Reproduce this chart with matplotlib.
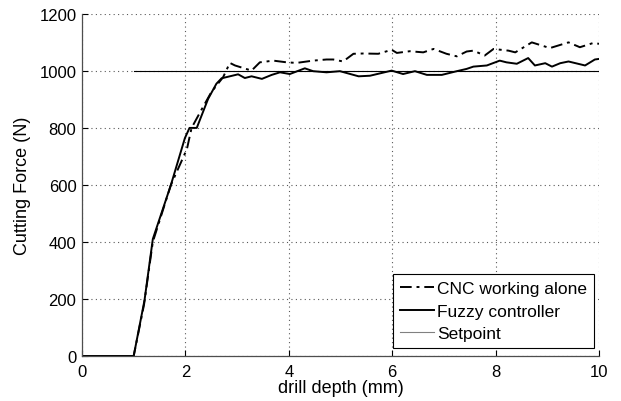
import matplotlib
matplotlib.use("Agg")
import matplotlib.pyplot as plt

plt.rcParams['font.family'] = ['Liberation Sans', 'DejaVu Sans']

fuzzy_x = [0, 1.0, 1.21, 1.37, 1.72, 1.99, 2.08, 2.22, 2.44, 2.6, 2.7, 2.86, 3.02, 3.15, 3.28, 3.48,
           3.67, 3.83, 4.02, 4.31, 4.47, 4.73, 4.99, 5.35, 5.57, 5.99, 6.21, 6.44, 6.67, 6.96, 7.25,
           7.44, 7.57, 7.83, 8.08, 8.21, 8.41, 8.63, 8.76, 8.96, 9.09, 9.25, 9.41, 9.73, 9.92, 10.0]
fuzzy_y = [0, 0, 196, 410, 600, 764, 800, 800, 902, 955, 974, 981, 988, 975, 981, 972,
           986, 995, 989, 1009, 999, 995, 999, 981, 983, 1001, 989, 999, 986, 986, 999,
           1007, 1015, 1019, 1036, 1030, 1025, 1045, 1019, 1027, 1015, 1027, 1033, 1019, 1040, 1042]

cnc_x = [0, 1.0, 1.2, 1.37, 1.72, 2.03, 2.12, 2.3, 2.5, 2.73, 2.86, 2.96, 3.28, 3.44, 3.70, 3.96,
         4.15, 4.47, 4.73, 4.86, 5.05, 5.25, 5.44, 5.73, 5.99, 6.09, 6.34, 6.60, 6.80, 7.05, 7.25,
         7.44, 7.57, 7.79, 7.96, 8.25, 8.38, 8.70, 9.05, 9.41, 9.63, 9.89, 10.0]
cnc_y = [0, 0, 180, 400, 600, 726, 800, 860, 925, 978, 1028, 1019, 1001, 1030, 1036, 1030,
         1028, 1036, 1040, 1040, 1033, 1060, 1061, 1060, 1074, 1063, 1069, 1065, 1077, 1060, 1051,
         1068, 1071, 1054, 1077, 1071, 1065, 1100, 1080, 1100, 1083, 1098, 1095]

setpoint_x = [1.0, 10.0]
setpoint_y = [1000, 1000]

xticks = [0, 2, 4, 6, 8, 10]
yticks = [0, 200, 400, 600, 800, 1000, 1200]

fig = plt.figure(figsize=(6.21, 4.02), dpi=100)
ax = fig.add_axes([0.132, 0.112, 0.8326, 0.851])

ax.plot(cnc_x, cnc_y, color='black', lw=1.4, linestyle=(0, (6, 2.5, 1.5, 2.5)), label='CNC working alone')
ax.plot(fuzzy_x, fuzzy_y, color='black', lw=1.4, label='Fuzzy controller')
ax.plot(setpoint_x, setpoint_y, color='black', lw=0.8, label='Setpoint')

ax.set_xlim(0, 10)
ax.set_ylim(0, 1200)
ax.set_xticks(xticks)
ax.set_yticks(yticks)
ax.grid(True, linestyle=(0, (1, 3)), color='0.35', lw=0.8)
ax.tick_params(direction='in', length=4, labelsize=12, colors='black')
ax.tick_params(axis='x', pad=6)
ax.tick_params(axis='y', pad=4)
for s in ['top', 'right']:
    ax.spines[s].set_visible(False)
for s in ['left', 'bottom']:
    ax.spines[s].set_color('0.3')
    ax.spines[s].set_linewidth(0.9)

ax.set_xlabel('drill depth (mm)', fontsize=13, labelpad=0)
ax.set_ylabel('Cutting Force (N)', fontsize=13, labelpad=6)

leg = ax.legend(loc='lower right', bbox_to_anchor=(0.990, 0.023), fontsize=12.5, frameon=True,
                fancybox=False, edgecolor='black', framealpha=1, handlelength=2.0,
                handletextpad=0.15, borderpad=0.4, labelspacing=0.42, borderaxespad=0.0)
leg.get_frame().set_linewidth(0.8)
leg.get_lines()[2].set_color('0.5')

fig.savefig('out.png', dpi=100)
